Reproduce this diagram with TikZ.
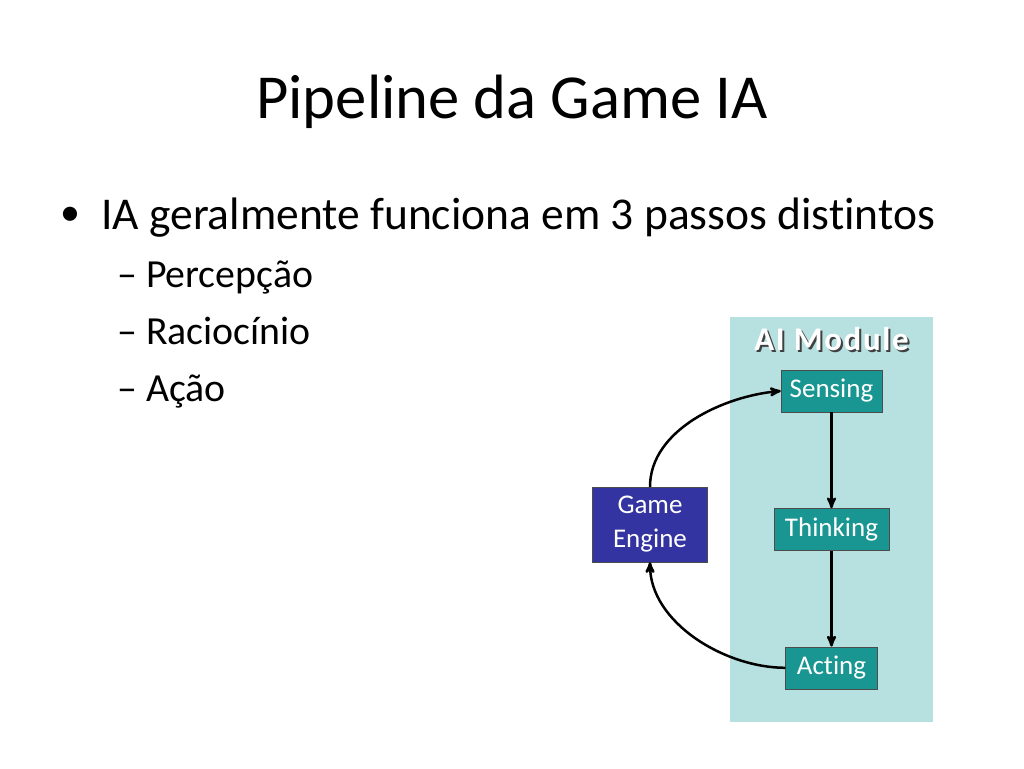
\documentclass[tikz,border=0pt]{standalone}
\usepackage{fontspec}
\setmainfont{Carlito}[Ligatures=NoCommon]
\usetikzlibrary{positioning,arrows}
\definecolor{ModuleBg}{HTML}{B7E0E1}
\definecolor{StepTeal}{HTML}{1A9692}
\definecolor{EngineBlue}{HTML}{3333A1}
\tikzset{
	>=stealth',
	stepbox/.style={
		rectangle,
		fill=StepTeal,
		draw=black!70, thin,
		text=white,
		inner sep=0pt,
		minimum height=42pt,
		font=\fontsize{27}{29}\selectfont},
	enginebox/.style={
		rectangle,
		fill=EngineBlue,
		draw=black!70, thin,
		text=white,
		align=center,
		inner sep=0pt,
		minimum width=115pt,
		minimum height=75pt,
		font=\fontsize{27}{34}\selectfont},
	flow/.style={draw, line width=2.5pt, ->},
	slidetext/.style={anchor=base west, inner sep=0pt},
}
\newcommand*\shadowed[1]{\rlap{\hspace{2pt}\raisebox{-2.5pt}{\color{black!75}#1}}#1}
\begin{document}
\begin{tikzpicture}[x=1pt,y=1pt]
\useasboundingbox (0,0) rectangle (1024,-768);
% slide texts
\node[anchor=base, inner sep=0pt, font=\fontsize{62.6}{70}\selectfont] (title) at (512,-118) {Pipeline da Game IA};
\node[slidetext, font=\fontsize{40}{44}\selectfont] (bullet) at (60,-225) {•};
\node[slidetext, font=\fontsize{45.5}{50}\selectfont] (main) at (101,-229) {IA geralmente funciona em 3 passos distintos};
\node[slidetext, font=\fontsize{39.8}{44}\selectfont] (perc) at (117,-287) {– Percepção};
\node[slidetext, font=\fontsize{39.8}{44}\selectfont] (raci) at (117,-344) {– Raciocínio};
\node[slidetext, font=\fontsize{39.8}{44}\selectfont] (acao) at (117,-401) {– Ação};

% AI module
\node[fill=ModuleBg, inner sep=0pt, minimum width=203pt, minimum height=405pt] (module) at (831.5,-519.5) {};
\node[text=white, font=\fontsize{33}{34}\bfseries\addfontfeatures{LetterSpace=5}\selectfont] (modtitle) at (831.5,-340) {\shadowed{AI Module}};

\node[stepbox, minimum width=101pt] (sensing) at (831.5,-391) {Sensing};
\node[stepbox, minimum width=115pt, below=96pt of sensing] (thinking) {Thinking};
\node[stepbox, minimum width=92pt, below=96pt of thinking] (acting) {Acting};
\node[enginebox] (engine) at (650,-524.5) {Game\\Engine};

\draw[flow] (sensing) -- (thinking);
\draw[flow] (thinking) -- (acting);
\draw[flow] (engine.north) to[out=90, in=185, looseness=0.9] (sensing.west);
\draw[flow] (acting.west) to[out=180, in=-90, looseness=0.9] (engine.south);
\end{tikzpicture}
\end{document}
